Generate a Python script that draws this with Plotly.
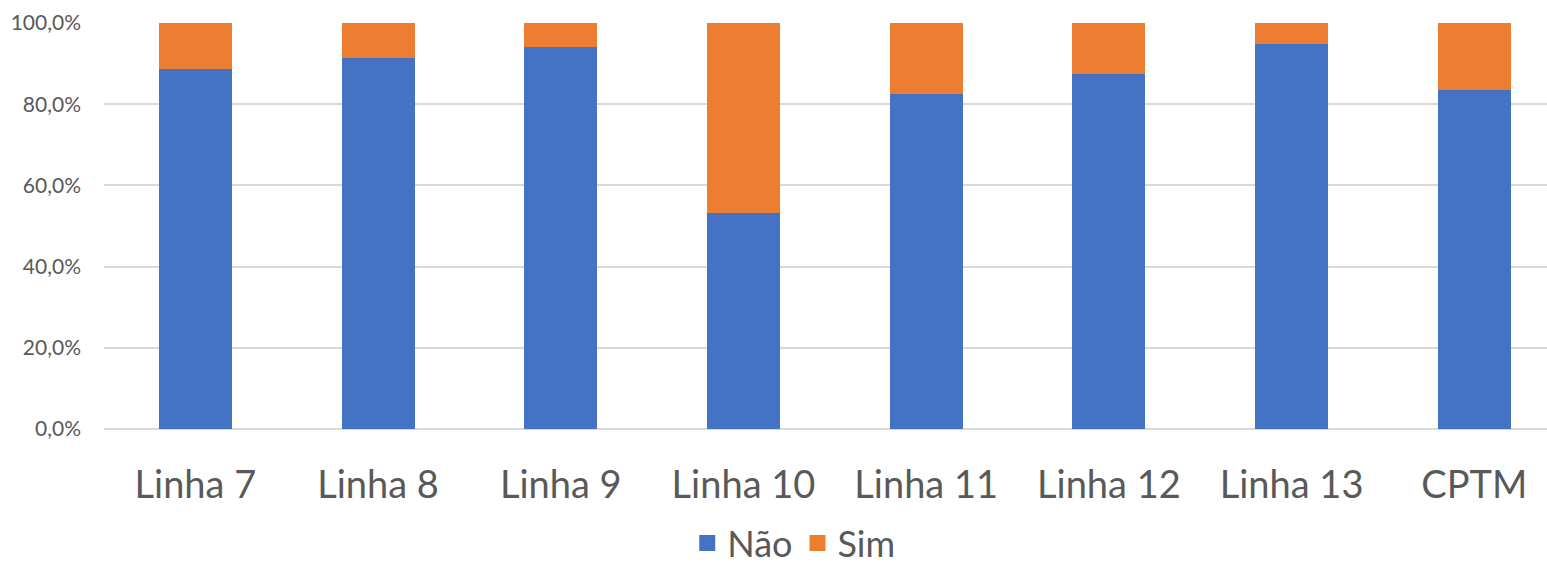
import plotly.graph_objects as go

# Share of respondents per line (percent)
categories = ["Linha 7", "Linha 8", "Linha 9", "Linha 10", "Linha 11", "Linha 12", "Linha 13", "CPTM"]
nao = [88.7, 91.4, 94.0, 53.3, 82.6, 87.5, 94.8, 83.4]
sim = [round(100 - v, 1) for v in nao]

BLUE = "#4472C4"
ORANGE = "#ED7D31"
TEXT = "#595959"
FONT = "Lato, Carlito, 'Open Sans', sans-serif"

fig = go.Figure()
fig.add_trace(go.Bar(x=categories, y=nao, name="Não", marker=dict(color=BLUE, line=dict(width=0)),
                     showlegend=False))
fig.add_trace(go.Bar(x=categories, y=sim, name="Sim", marker=dict(color=ORANGE, line=dict(width=0)),
                     showlegend=False))

# Legend entries with large square swatches
for name, color in [("Não", BLUE), ("Sim", ORANGE)]:
    fig.add_trace(go.Scatter(x=[None], y=[None], mode="markers", name=name,
                             marker=dict(symbol="square", size=23, color=color)))

fig.update_layout(
    barmode="stack",
    bargap=0.6,
    width=1547,
    height=574,
    margin=dict(l=104, r=0, t=23, b=145, autoexpand=False),
    paper_bgcolor="white",
    plot_bgcolor="white",
    separators=",.",
    font=dict(family=FONT, color=TEXT),
    showlegend=True,
    legend=dict(orientation="h", x=0.478, xanchor="center", y=-0.355, yanchor="bottom",
                traceorder="normal", font=dict(size=36, color=TEXT), itemsizing="trace",
                itemwidth=30),
)
fig.update_xaxes(
    range=[-0.5, 7.398],
    showgrid=False,
    showline=False,
    tickfont=dict(size=38, color=TEXT),
    ticks="",
    ticklabelstandoff=30,
)
fig.update_yaxes(
    range=[0, 100],
    dtick=20,
    tickformat=".1f",
    ticksuffix="%",
    showgrid=True,
    gridcolor="#D9D9D9",
    gridwidth=1.5,
    zeroline=True,
    zerolinecolor="#D9D9D9",
    zerolinewidth=1.5,
    tickfont=dict(size=21, color=TEXT),
    ticklabelstandoff=22,
)

fig.write_html("out.html")
